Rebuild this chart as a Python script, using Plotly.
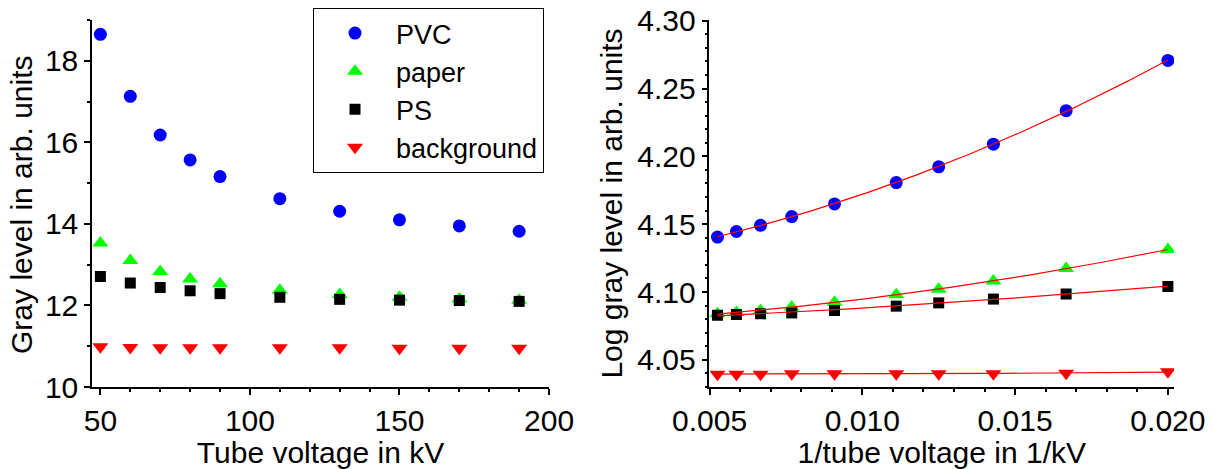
import numpy as np
import plotly.graph_objects as go

# ---- data (left panel) ----
kv = [50, 60, 70, 80, 90, 110, 130, 150, 170, 190]
pvc = [18.65, 17.13, 16.18, 15.57, 15.16, 14.62, 14.31, 14.10, 13.95, 13.82]
paper = [13.53, 13.10, 12.83, 12.65, 12.53, 12.37, 12.27, 12.20, 12.16, 12.13]
ps = [12.71, 12.55, 12.44, 12.36, 12.29, 12.20, 12.15, 12.13, 12.12, 12.10]
bg = [10.99, 10.97, 10.96, 10.96, 10.96, 10.96, 10.96, 10.95, 10.95, 10.95]

# ---- data (right panel) ----
inv_kv = [0.02, 0.01667, 0.01429, 0.0125, 0.01111, 0.00909, 0.00769, 0.00667, 0.00588, 0.00526]
log_pvc = [4.2707, 4.2337, 4.2090, 4.1923, 4.1807, 4.1649, 4.1556, 4.1492, 4.1446, 4.1405]
log_paper = [4.1313, 4.1173, 4.1082, 4.1021, 4.0980, 4.0924, 4.0889, 4.0864, 4.0850, 4.0839]
log_ps = [4.1041, 4.0986, 4.0948, 4.0920, 4.0896, 4.0864, 4.0846, 4.0839, 4.0835, 4.0828]
log_bg = [4.0412, 4.0402, 4.0398, 4.0398, 4.0398, 4.0398, 4.0398, 4.0394, 4.0394, 4.0394]

names = ["PVC", "paper", "PS", "background"]
colors = ["#0000FF", "#00FF00", "#000000", "#FF0000"]
symbols = ["circle", "triangle-up", "square", "triangle-down"]
sizes = [13, 14, 11, 14]

FONT = "Liberation Sans, Arial, sans-serif"

fig = go.Figure()

left_series = [pvc, paper, ps, bg]
right_series = [log_pvc, log_paper, log_ps, log_bg]

for name, c, s, sz, ys in zip(names, colors, symbols, sizes, left_series):
    fig.add_trace(go.Scatter(x=kv, y=ys, mode="markers", name=name,
                             marker=dict(color=c, symbol=s, size=sz, line=dict(width=0)),
                             xaxis="x", yaxis="y"))

for name, c, s, sz, ys in zip(names, colors, symbols, sizes, right_series):
    fig.add_trace(go.Scatter(x=inv_kv, y=ys, mode="markers", name=name, showlegend=False,
                             marker=dict(color=c, symbol=s, size=sz, line=dict(width=0)),
                             xaxis="x2", yaxis="y2"))

# quadratic fit curves on right panel
xs = np.linspace(min(inv_kv), max(inv_kv), 120)
for ys in right_series:
    coef = np.polyfit(inv_kv, ys, 2)
    fig.add_trace(go.Scatter(x=xs, y=np.polyval(coef, xs), mode="lines", showlegend=False,
                             line=dict(color="#FF0000", width=1.2),
                             xaxis="x2", yaxis="y2", hoverinfo="skip"))

axis_common = dict(showgrid=False, zeroline=False, showline=True, linecolor="black",
                   linewidth=1.5, ticks="outside", ticklen=6, tickwidth=1.5,
                   tickcolor="black", mirror=False, ticklabeloverflow="allow",
                   tickfont=dict(family=FONT, size=30, color="black"))
minor_common = dict(ticks="outside", ticklen=3, tickwidth=1.5, tickcolor="black", showgrid=False)
TFONT = dict(family=FONT, size=30, color="black")

# page body has an 8px margin, so the figure is sized to fit the remaining window
fig.update_layout(
    width=1207, height=461,
    margin=dict(l=84, r=41, t=12, b=82, autoexpand=False),
    paper_bgcolor="white", plot_bgcolor="white",
    font=dict(family=FONT, color="black"),
    xaxis=dict(domain=[0, 0.4224], range=[47.2, 200], tick0=50, dtick=50,
               minor=dict(dtick=10, **minor_common),
               title=dict(text="Tube voltage in kV", font=TFONT, standoff=4),
               anchor="y", **axis_common),
    yaxis=dict(range=[10, 19.001], tick0=10, dtick=2,
               minor=dict(dtick=1, **minor_common),
               anchor="x", **axis_common),
    xaxis2=dict(domain=[0.5707, 1], range=[0.004999, 0.0202], tick0=0.005, dtick=0.005,
                tickformat=".3f",
                minor=dict(dtick=0.001, **minor_common),
                title=dict(text="1/tube voltage in 1/kV", font=TFONT, standoff=4),
                anchor="y2", **axis_common),
    yaxis2=dict(range=[4.03, 4.3005], tick0=4.0, dtick=0.05, tickformat=".2f",
                minor=dict(dtick=0.01, **minor_common),
                title=dict(text="Log gray level in arb. units", font=TFONT, standoff=6),
                anchor="x2", **axis_common),
    legend=dict(xref="container", yref="container", x=305 / 1207, y=1.0,
                xanchor="left", yanchor="top",
                bgcolor="white", bordercolor="black", borderwidth=1,
                font=dict(family=FONT, size=27, color="black"),
                itemwidth=72, tracegroupgap=0),
    showlegend=True,
    annotations=[dict(text="Gray level in arb. units", textangle=-90,
                      xref="paper", yref="paper", x=-0.0647, y=0.496,
                      xanchor="center", yanchor="middle", showarrow=False,
                      font=TFONT)],
)

fig.write_html("out.html")
